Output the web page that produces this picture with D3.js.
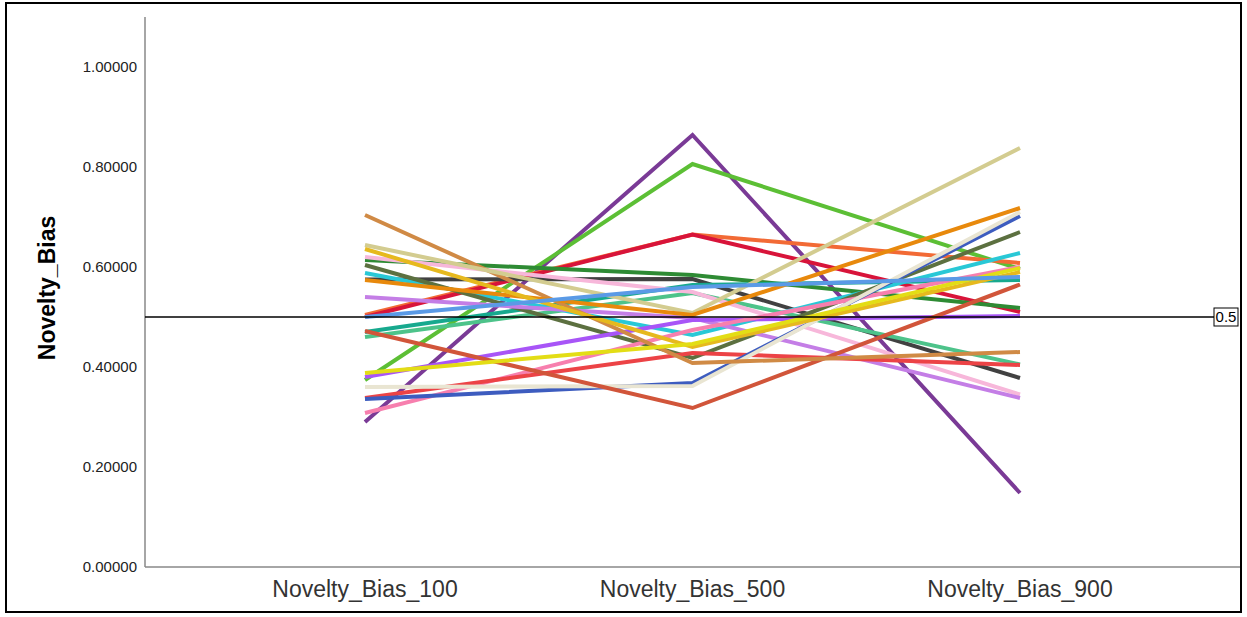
<!DOCTYPE html>
<html><head><meta charset="utf-8">
<script src="https://cdn.jsdelivr.net/npm/d3@7"></script>
<style>body{margin:0;background:#fff}svg{display:block}text{font-family:Arial,"Liberation Sans",sans-serif}</style>
</head><body>
<svg id="c" width="1247" height="617"></svg>
<script>
const categories = ["Novelty_Bias_100","Novelty_Bias_500","Novelty_Bias_900"];
const yTicks = [0,0.2,0.4,0.6,0.8,1.0];
const refValue = 0.5;
const seriesNames = ["purple","lime","tomato","crimson","forest","darkgray","teal","seagreen","cyan","olive","lightpink","orchid","brightpurple","hotpink","red","blue","beige","brick","peru","khaki","orange","gold","yellow","cornflower"];
const seriesColors = ["#7a3a96","#5cbf35","#f26a35","#d8143a","#2e8b34","#414141","#17a98e","#4dc38a","#29c8d6","#5c7040","#f7b7da","#c47ee6","#a855f7","#f77fae","#ec4346","#3d5cbf","#e9e5d2","#d1553a","#d08a45","#d3cc90","#e8890c","#e6b91e","#e3dd15","#5a9ae6"];
const v100 = [0.290,0.374,0.504,0.500,0.614,0.575,0.470,0.460,0.588,0.604,0.620,0.540,0.380,0.308,0.338,0.336,0.360,0.472,0.704,0.644,0.574,0.636,0.388,0.500];
const v500 = [0.864,0.806,0.665,0.665,0.584,0.576,0.564,0.548,0.464,0.418,0.550,0.498,0.494,0.474,0.428,0.368,0.362,0.318,0.408,0.508,0.504,0.440,0.446,0.560];
const v900 = [0.148,0.596,0.608,0.510,0.518,0.378,0.574,0.405,0.628,0.670,0.345,0.338,0.502,0.600,0.404,0.702,0.710,0.565,0.430,0.838,0.718,0.590,0.598,0.580];

const svg = d3.select("#c");
svg.append("rect").attr("x",6).attr("y",3).attr("width",1235).attr("height",609)
  .attr("fill","#fff").attr("stroke","#000").attr("stroke-width",2);

const x = d3.scalePoint().domain(categories).range([365,1020]);
const y = d3.scaleLinear().domain([0,1.1]).range([567,17]);

// axes
svg.append("line").attr("x1",145).attr("x2",145).attr("y1",y(1.1)).attr("y2",y(0))
  .attr("stroke","#888").attr("stroke-width",1.5);
svg.append("line").attr("x1",145).attr("x2",1240).attr("y1",y(0)).attr("y2",y(0))
  .attr("stroke","#888").attr("stroke-width",1.5);
svg.selectAll(".yt").data(yTicks).join("text").attr("class","yt")
  .attr("x",137).attr("y",d=>y(d)).attr("dy","0.35em").attr("text-anchor","end")
  .attr("font-size",15).attr("fill","#222").text(d=>d3.format(".5f")(d));
svg.selectAll(".xt").data(categories).join("text").attr("class","xt")
  .attr("x",d=>x(d)).attr("y",597).attr("text-anchor","middle")
  .attr("font-size",23).attr("fill","#333").text(d=>d);
svg.append("text").attr("transform","translate(55,288) rotate(-90)")
  .attr("text-anchor","middle").attr("font-size",23).attr("font-weight","bold")
  .attr("fill","#000").text("Novelty_Bias");

// series
const series = seriesNames.map((n,i)=>({name:n,color:seriesColors[i],vals:[v100[i],v500[i],v900[i]]}));
const line = d3.line().x((d,i)=>x(categories[i])).y(d=>y(d));
svg.append("g").selectAll("path").data(series).join("path")
  .attr("d",d=>line(d.vals)).attr("fill","none").attr("stroke",d=>d.color)
  .attr("stroke-width",4).attr("stroke-linejoin","miter");

// reference line
svg.append("line").attr("x1",145).attr("x2",1214).attr("y1",y(refValue)).attr("y2",y(refValue))
  .attr("stroke","#000").attr("stroke-width",1.5);
svg.append("rect").attr("x",1214).attr("y",y(refValue)-9).attr("width",24).attr("height",18)
  .attr("fill","#fff").attr("stroke","#000").attr("stroke-width",1);
svg.append("text").attr("x",1226).attr("y",y(refValue)).attr("dy","0.35em").attr("text-anchor","middle")
  .attr("font-size",15).attr("fill","#000").text(refValue);
</script>
</body></html>
